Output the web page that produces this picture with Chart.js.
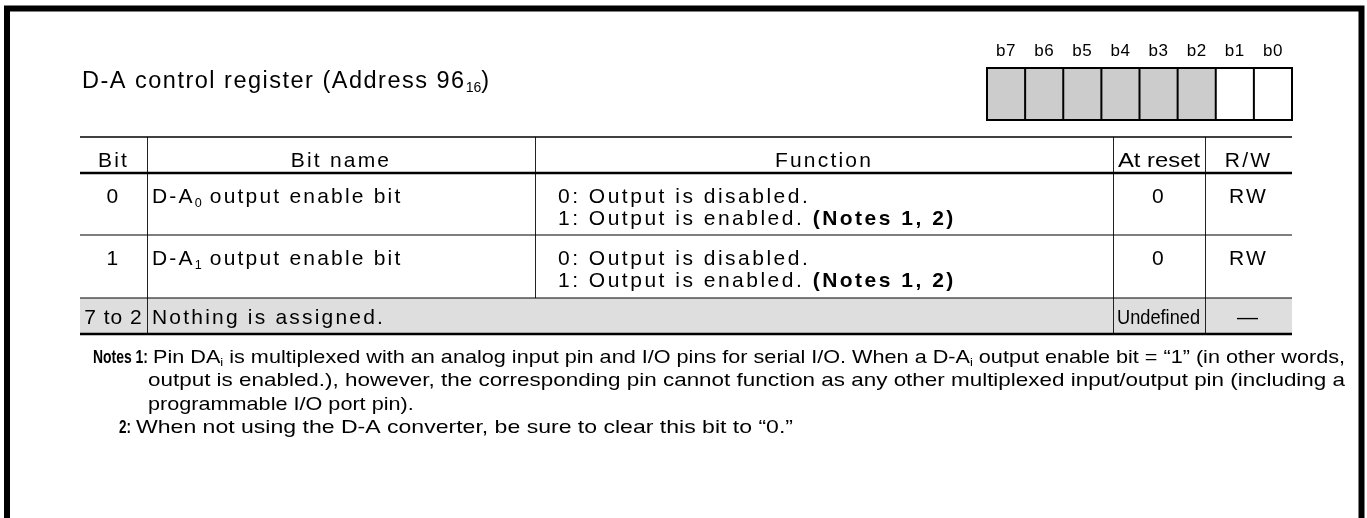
<!DOCTYPE html>
<html><head><meta charset="utf-8">
<script src="https://cdn.jsdelivr.net/npm/chart.js@4"></script>
<style>html,body{margin:0;padding:0;background:#fff;overflow:hidden}canvas{display:block}</style>
</head><body>
<canvas id="c" width="1367" height="518"></canvas>
<script>
// ---- data ----
const registerTitle = 'D-A control register (Address 96_{16})';
const bitLabels = ['b7','b6','b5','b4','b3','b2','b1','b0'];
const bitReserved = [true,true,true,true,true,true,false,false];
const columnHeaders = ['Bit','Bit name','Function','At reset','R/W'];
const rowBits = ['0','1','7 to 2'];
const rowNames = ['D-A_{0} output enable bit','D-A_{1} output enable bit','Nothing is assigned.'];
const rowFunctions = [
  ['0: Output is disabled.','1: Output is enabled. **(Notes 1, 2)**'],
  ['0: Output is disabled.','1: Output is enabled. **(Notes 1, 2)**'],
  []
];
const rowReset = ['0','0','Undefined'];
const rowRW = ['RW','RW','—'];
const noteLabels = ['Notes 1:','2:'];
const noteLines = [
  ['Pin DA_{i} is multiplexed with an analog input pin and I/O pins for serial I/O. When a D-A_{i} output enable bit = “1” (in other words,',
   'output is enabled.), however, the corresponding pin cannot function as any other multiplexed input/output pin (including a',
   'programmable I/O port pin).'],
  ['When not using the D-A converter, be sure to clear this bit to “0.”']
];

// ---- layout (in scale units = pixels of the 1367x518 frame) ----
const FONT = '"Liberation Sans", Arial, sans-serif';
const LAYOUT = {
  frame: {l: 7, t: 8.5, r: 1361.5, w: 6},
  title: {x: 82, y: 88, size: 23.5, ls: 1.5},
  bits: {x0: 987, x1: 1292, y0: 68, y1: 120, labelY: 56, labelSize: 17},
  table: {x0: 80, x1: 1292, top: 137, head: 173, rows: [173, 235, 298, 334]},
  cols: [80, 147, 535, 1113, 1205, 1292],
  headY: 167, size: 21, ls: 2.2, fnLs: 2.5, lineGap: 22, firstLine: 30,
  notes: {labelX: 93, labelEnd: 148, textX: 153, contX: 148, label2X: 119, label2End: 131, text2X: 136, text2End: 793, y0: 363, gap: 23.3, size: 18.5, endX: 1345}
};

function parseRich(s){
  const segs=[]; let bold=false, i=0, buf='';
  const push=(t,sub)=>{ if(t) segs.push({t,bold,sub}); };
  while(i<s.length){
    if(s.startsWith('**',i)){ push(buf,false); buf=''; bold=!bold; i+=2; }
    else if(s.startsWith('_{',i)){ push(buf,false); buf=''; const j=s.indexOf('}',i); push(s.slice(i+2,j),true); i=j+1; }
    else { buf+=s[i]; i++; }
  }
  push(buf,false); return segs;
}
function segFont(seg,o){
  const sz = seg.sub ? o.size*0.6 : o.size;
  return ((seg.bold||o.bold)?'bold ':'') + sz + 'px ' + (o.family||FONT);
}
function measureRich(ctx,text,o){
  let w=0; for(const s of parseRich(text)){ ctx.font=segFont(s,o); ctx.letterSpacing=(s.sub?0:(o.ls||0))+'px'; w+=ctx.measureText(s.t).width; }
  return w;
}
function drawRich(ctx,text,x,y,o){
  const segs=parseRich(text);
  const W=measureRich(ctx,text,o);
  let sx=o.scaleX||1;
  if(o.fitWidth) sx=o.fitWidth/W;
  ctx.save(); ctx.translate(x,y); ctx.scale(sx,1);
  ctx.fillStyle=o.color||'#000'; ctx.textBaseline='alphabetic'; ctx.textAlign='left';
  let cx = o.align==='center' ? -W/2 : 0;
  for(const s of segs){
    ctx.font=segFont(s,o); ctx.letterSpacing=(s.sub?0:(o.ls||0))+'px';
    ctx.fillText(s.t,cx,s.sub? o.size*0.18:0);
    cx+=ctx.measureText(s.t).width;
  }
  ctx.restore();
  return sx;
}

const registerPlugin = {
  id:'register',
  afterDraw(chart){
    const ctx=chart.ctx, X=v=>chart.scales.x.getPixelForValue(v), Y=v=>chart.scales.y.getPixelForValue(v);
    const L=LAYOUT;
    ctx.save();
    // frame
    ctx.strokeStyle='#000'; ctx.lineWidth=L.frame.w; ctx.lineCap='butt'; ctx.lineJoin='miter';
    ctx.beginPath(); ctx.moveTo(X(L.frame.l),Y(530)); ctx.lineTo(X(L.frame.l),Y(L.frame.t)); ctx.lineTo(X(L.frame.r),Y(L.frame.t)); ctx.lineTo(X(L.frame.r),Y(530)); ctx.stroke();
    // title
    drawRich(ctx,registerTitle,X(L.title.x),Y(L.title.y),{size:L.title.size, ls:L.title.ls});
    // bit boxes
    const B=L.bits, bw=(B.x1-B.x0)/bitLabels.length;
    bitLabels.forEach((lab,i)=>{
      const x0=B.x0+i*bw;
      ctx.fillStyle=bitReserved[i]?'#cccccc':'#ffffff';
      ctx.fillRect(X(x0),Y(B.y0),X(x0+bw)-X(x0),Y(B.y1)-Y(B.y0));
      drawRich(ctx,lab,X(x0+bw/2),Y(B.labelY),{size:B.labelSize,align:'center',ls:0.6});
    });
    ctx.strokeStyle='#000'; ctx.lineWidth=2;
    ctx.strokeRect(X(B.x0),Y(B.y0),X(B.x1)-X(B.x0),Y(B.y1)-Y(B.y0));
    ctx.beginPath();
    for(let i=1;i<bitLabels.length;i++){ const x=B.x0+i*bw; ctx.moveTo(X(x),Y(B.y0)); ctx.lineTo(X(x),Y(B.y1)); }
    ctx.stroke();
    // table
    const T=L.table, C=L.cols, R=T.rows;
    ctx.fillStyle='#dedede';
    ctx.fillRect(X(T.x0),Y(R[2]),X(T.x1)-X(T.x0),Y(R[3])-Y(R[2]));
    ctx.strokeStyle='#222'; ctx.lineWidth=1;
    ctx.beginPath();
    for(let c=1;c<C.length-1;c++){
      ctx.moveTo(X(C[c])+0.5,Y(T.top));
      ctx.lineTo(X(C[c])+0.5,Y(c===2?R[2]:R[3]));
    }
    ctx.stroke();
    const hline=(y,w)=>{ ctx.lineWidth=w; ctx.strokeStyle='#000'; ctx.beginPath(); ctx.moveTo(X(T.x0),Y(y)); ctx.lineTo(X(T.x1),Y(y)); ctx.stroke(); };
    hline(T.top,1.5); hline(T.head,2.5); hline(R[1],1.2); hline(R[2],1.2); hline(R[3],2.5);
    // headers
    columnHeaders.forEach((h,c)=>{
      const cx=(C[c]+C[c+1])/2;
      if(c===3) drawRich(ctx,h,X(cx)-41,Y(L.headY),{size:L.size,ls:0,fitWidth:82});
      else drawRich(ctx,h,X(cx),Y(L.headY),{size:L.size,align:'center',ls:L.ls});
    });
    // rows
    rowBits.forEach((b,r)=>{
      const single = rowFunctions[r].length===0;
      const ly = single ? (R[r]+R[r+1])/2+8 : R[r]+L.firstLine;
      drawRich(ctx,b,X((C[0]+C[1])/2),Y(ly),{size:L.size,align:'center',ls:single?1:L.ls});
      drawRich(ctx,rowNames[r],X(C[1]+5),Y(ly),{size:L.size,ls:L.ls});
      rowFunctions[r].forEach((f,k)=>{
        drawRich(ctx,f,X(C[2]+23),Y(ly+k*L.lineGap),{size:L.size,ls:L.fnLs});
      });
      if(rowReset[r].length>3) drawRich(ctx,rowReset[r],X((C[3]+C[4])/2)-42,Y(ly),{size:L.size,ls:0,fitWidth:83});
      else drawRich(ctx,rowReset[r],X((C[3]+C[4])/2),Y(ly),{size:L.size,align:'center',ls:L.ls});
      drawRich(ctx,rowRW[r],X((C[4]+C[5])/2),Y(ly),{size:L.size,align:'center',ls:L.ls});
    });
    // notes
    const N=L.notes;
    drawRich(ctx,noteLabels[0],X(N.labelX),Y(N.y0),{size:N.size,bold:true,fitWidth:X(N.labelEnd)-X(N.labelX)});
    const sx = drawRich(ctx,noteLines[0][0],X(N.textX),Y(N.y0),{size:N.size,fitWidth:X(N.endX)-X(N.textX)});
    drawRich(ctx,noteLines[0][1],X(N.contX),Y(N.y0+N.gap),{size:N.size,fitWidth:X(N.endX)-X(N.contX)});
    drawRich(ctx,noteLines[0][2],X(N.contX),Y(N.y0+2*N.gap),{size:N.size,scaleX:sx});
    drawRich(ctx,noteLabels[1],X(N.label2X),Y(N.y0+3*N.gap),{size:N.size,bold:true,fitWidth:X(N.label2End)-X(N.label2X)});
    drawRich(ctx,noteLines[1][0],X(N.text2X),Y(N.y0+3*N.gap),{size:N.size,fitWidth:X(N.text2End)-X(N.text2X)});
    ctx.restore();
  }
};

new Chart(document.getElementById('c').getContext('2d'),{
  type:'scatter',
  data:{datasets:[{data:[]}]},
  options:{
    responsive:false, animation:false, devicePixelRatio:1,
    layout:{padding:0},
    plugins:{legend:{display:false},tooltip:{enabled:false}},
    scales:{
      x:{type:'linear',min:0,max:1367,display:false},
      y:{type:'linear',min:0,max:518,reverse:true,display:false}
    }
  },
  plugins:[registerPlugin]
});
</script>
</body></html>
